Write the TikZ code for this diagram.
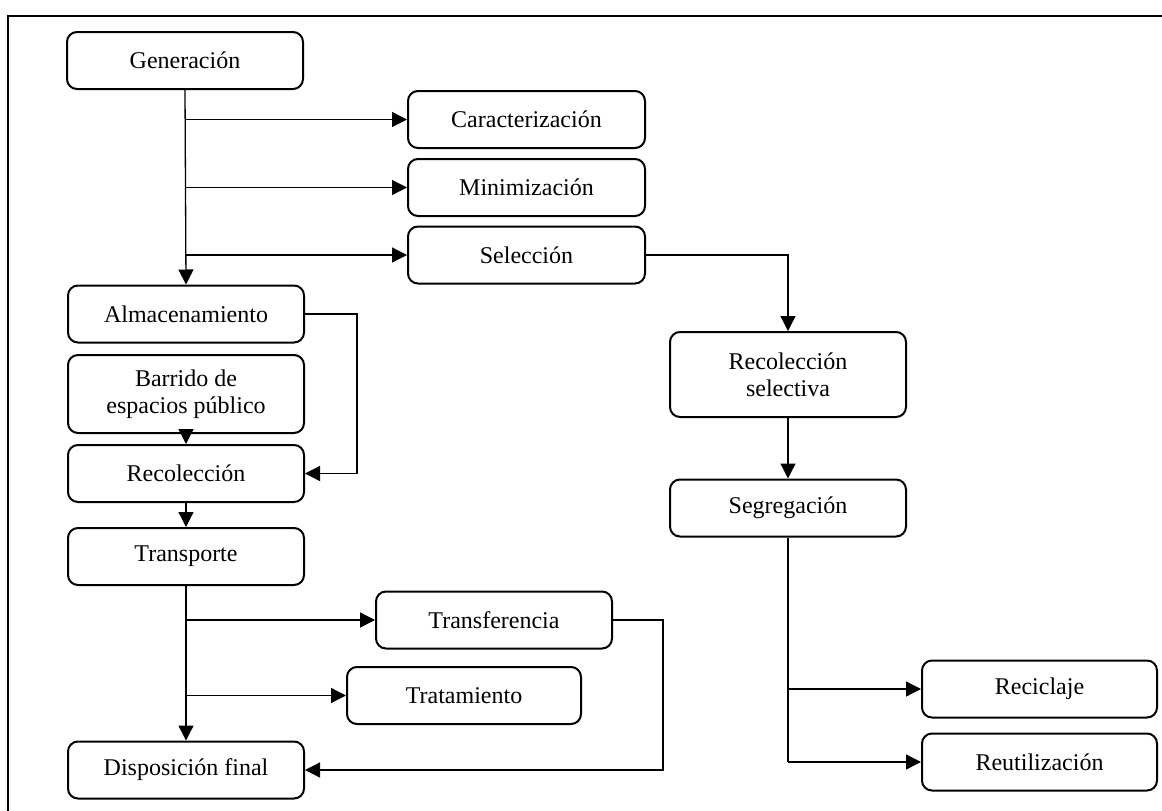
\documentclass[tikz,border=0pt]{standalone}
\usepackage{fontspec}
\setmainfont{Liberation Serif}
\usetikzlibrary{positioning, arrows.meta, calc}
\tikzset{
  stage/.style={rectangle, draw, line width=2pt, rounded corners=10pt,
    minimum width=236pt, minimum height=57pt, inner sep=2pt,
    font=\fontsize{24}{27}\selectfont, align=center},
  flow/.style={line width=1.3pt, -{Triangle[length=15pt, width=15pt]}},
  link/.style={line width=1.3pt},
}

\begin{document}
\begin{tikzpicture}[x=1pt, y=-1pt]
    \useasboundingbox (0,0) rectangle (1162,811);
    \draw[line width=2.5pt] (8,811) -- (8,16) -- (1162,16);

    \node (gen) [stage] at (185,60.5) {Generación};
    \node (car) [stage, minimum width=237pt] at (526.5,119.5) {Caracterización};
    \node (min) [stage, minimum width=237pt] at (526.5,187.5) {Minimización};
    \node (sel) [stage, minimum width=237pt] at (526.5,255) {Selección};
    \node (alm) [stage] at (186,314) {Almacenamiento};
    \node (bar) [stage, minimum height=78pt] at (186,394) {Barrido de\\espacios público};
    \node (rec) [stage] at (186,473.5) {Recolección};
    \node (tra) [stage] at (186,556.5) {Transporte};
    \node (tran) [stage] at (494,620) {Transferencia};
    \node (trat) [stage, minimum width=234pt] at (464,695.5) {Tratamiento};
    \node (dis) [stage] at (186,770) {Disposición final};
    \node (rsel) [stage, minimum height=85pt] at (788,374.5) {Recolección\\selectiva};
    \node (seg) [stage] at (788,508) {Segregación};
    \node (reci) [stage, minimum width=235pt] at (1039.5,689) {Reciclaje};
    \node (reut) [stage, minimum width=235pt, below=14pt of reci] {Reutilización};

    \coordinate (g1) at (gen.south |- car.west);
    \coordinate (g2) at (gen.south |- min.west);
    \coordinate (g3) at (gen.south |- sel.west);
    \draw[flow] (gen.south) -- (alm.north);
    \draw[flow] (g1) -- (car.west);
    \draw[flow] (g2) -- (min.west);
    \draw[flow] (g3) -- (sel.west);

    \draw[flow] (alm.east) -- ++(52,0) |- (rec.east);
    \draw[flow] (bar.south) -- (rec.north);
    \draw[flow] (rec.south) -- (tra.north);

    \coordinate (t1) at (tra.south |- tran.west);
    \coordinate (t2) at (tra.south |- trat.west);
    \draw[flow] (tra.south) -- (dis.north);
    \draw[flow] (t1) -- (tran.west);
    \draw[flow] (t2) -- (trat.west);
    \draw[flow] (tran.east) -- ++(50,0) |- (dis.east);

    \draw[flow] (sel.east) -| (rsel.north);
    \draw[flow] (rsel.south) -- (seg.north);
    \coordinate (s1) at (seg.south |- reci.west);
    \coordinate (s2) at (seg.south |- reut.west);
    \draw[link] (seg.south) -- (s2);
    \draw[flow] (s1) -- (reci.west);
    \draw[flow] (s2) -- (reut.west);
  \end{tikzpicture}
\end{document}
